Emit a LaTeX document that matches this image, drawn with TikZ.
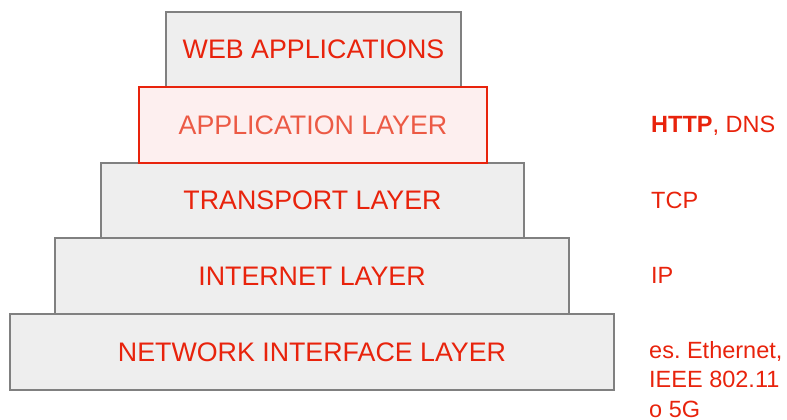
\documentclass[tikz,border=0pt]{standalone}
\usepackage{fontspec}
\setmainfont{Liberation Sans}
\usepackage{tikz}
\definecolor{layerred}{HTML}{E8230C}
\definecolor{applred}{HTML}{EC5A45}
\definecolor{layergray}{HTML}{808080}
\definecolor{layerfill}{HTML}{EEEEEE}
\definecolor{applfill}{HTML}{FDEFEF}

\begin{document}
\begin{tikzpicture}[x=1pt,y=-1pt]
    \tikzstyle{layer}=[draw=layergray,fill=layerfill,line width=1.5pt,text=layerred,inner sep=0pt,font=\fontsize{26.8}{30}\selectfont]
    \tikzstyle{active layer}=[style=layer,draw=layerred,fill=applfill,text=applred]
    \tikzstyle{protocol}=[anchor=base west,text=layerred,inner sep=0pt,font=\fontsize{23.5}{29.5}\selectfont]

    \useasboundingbox (0,0) rectangle (787,420);

    % Layers, bottom to top
    \node[style=layer,minimum width=604pt,minimum height=76pt] (network) at (312,352) {NETWORK INTERFACE LAYER};
    \node[style=layer,minimum width=514pt,minimum height=76pt] (internet) at (312,276) {INTERNET LAYER};
    \node[style=layer,minimum width=423pt,minimum height=75pt] (transport) at (312.5,200.5) {TRANSPORT LAYER};
    \node[style=layer,minimum width=295pt,minimum height=75pt] (web) at (313.5,49.5) {WEB APPLICATIONS};
    \node[style=active layer,minimum width=348pt,minimum height=76pt] (application) at (313,125) {APPLICATION LAYER};

    % Protocols
    \node[style=protocol] (http) at (651,132) {\textbf{HTTP}, DNS};
    \node[style=protocol] (tcp) at (651,208) {TCP};
    \node[style=protocol] (ip) at (651,283) {IP};
    \node[style=protocol,align=left] (ethernet) at (649,417) {es.\ Ethernet,\\IEEE 802.11\\o 5G};

\end{tikzpicture}
\end{document}
